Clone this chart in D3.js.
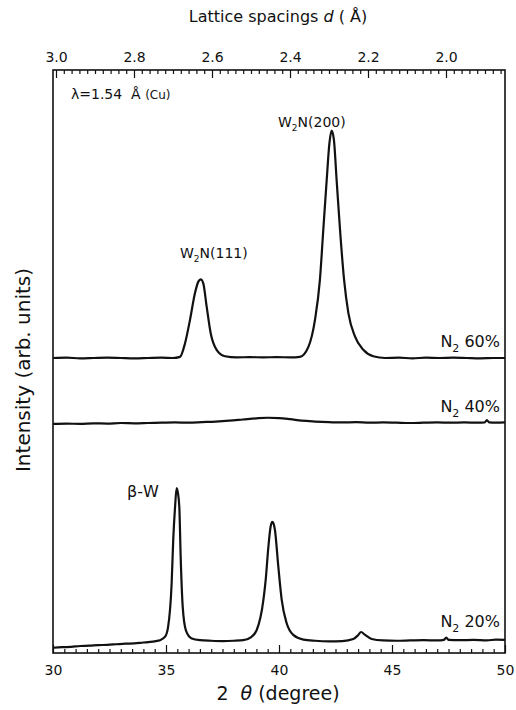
<!DOCTYPE html>
<html>
<head>
<meta charset="utf-8">
<script src="https://cdn.jsdelivr.net/npm/d3@7"></script>
<style>
  body { margin: 0; background: #fff; }
  svg { font-family: "DejaVu Sans", sans-serif; }
</style>
</head>
<body>
<script>
// data: 2theta (deg) and intensity (arb. units, relative to each curve's offset)
var n20Angle = [30.0, 30.4, 30.8, 31.2, 31.6, 32.0, 32.4, 32.8, 33.2, 33.6, 34.0, 34.3, 34.55, 34.73, 34.96,
  35.09, 35.25, 35.32, 35.40, 35.47, 35.53, 35.59, 35.65, 35.74, 35.88, 36.14, 36.5, 37.0, 37.5, 38.0,
  38.42, 38.75, 39.01, 39.31, 39.41, 39.53, 39.63, 39.70, 39.76, 39.82, 39.97, 40.12, 40.34, 40.63, 41.08,
  41.6, 42.2, 42.8, 43.29, 43.51, 43.63, 43.81, 44.10, 44.6, 45.2, 45.8, 46.4, 47.0, 47.3, 47.4,
  47.5, 48.0, 48.6, 49.2, 49.6, 50.0];
var n20Int = [-1.3, -1.2, -1.15, -1.0, -0.95, -0.85, -0.8, -0.7, -0.6, -0.55, -0.4, -0.3, -0.15, 0.0, 0.6,
  2.2, 9.8, 17.2, 22.8, 26.1, 25.2, 22.8, 14.2, 5.7, 1.7, 0.3, 0.0, -0.1, -0.15, -0.1,
  0.0, 0.5, 1.7, 6.9, 10.3, 16.0, 19.5, 20.3, 20.0, 18.9, 12.6, 6.9, 2.9, 0.9, 0.1,
  -0.1, -0.2, -0.15, 0.2, 0.9, 1.4, 0.9, 0.2, -0.05, -0.1, -0.05, 0.0, -0.05, 0.05, 0.45,
  0.05, 0.0, 0.05, -0.05, 0.1, 0.05];

var n40Angle = [30.0, 30.6, 31.2, 31.8, 32.4, 33.0, 33.6, 34.2, 34.8, 35.4, 36.0, 36.6, 37.2, 37.8, 38.4,
  39.0, 39.5, 40.0, 40.5, 41.0, 41.6, 42.2, 42.8, 43.4, 44.0, 44.6, 45.2, 45.8, 46.4, 47.0,
  47.6, 48.2, 48.8, 49.1, 49.2, 49.3, 49.6, 50.0];
var n40Int = [-0.2, -0.15, -0.2, -0.1, -0.15, -0.05, -0.1, -0.05, 0.0, 0.05, 0.0, 0.1, 0.2, 0.35, 0.55,
  0.75, 0.85, 0.8, 0.6, 0.35, 0.2, 0.1, 0.05, 0.1, 0.0, 0.05, 0.0, -0.05, 0.0, 0.05,
  0.0, 0.05, 0.0, 0.05, 0.45, 0.05, 0.0, 0.05];

var n60Angle = [30.0, 30.6, 31.2, 31.8, 32.4, 33.0, 33.6, 34.2, 34.8, 35.3, 35.62, 35.84, 36.06, 36.28, 36.43,
  36.54, 36.65, 36.80, 36.98, 37.24, 37.61, 38.13, 38.7, 39.3, 39.9, 40.5, 40.93, 41.30, 41.59, 41.81,
  41.96, 42.11, 42.23, 42.33, 42.43, 42.55, 42.70, 42.88, 43.07, 43.36, 43.73, 44.17, 44.7, 45.3, 45.9,
  46.5, 47.1, 47.7, 48.3, 48.9, 49.5, 50.0];
var n60Int = [0.0, 0.05, -0.05, 0.0, 0.05, 0.0, -0.05, 0.0, 0.05, 0.0, 0.2, 2.5, 6.5, 11.1, 13.1,
  13.5, 12.8, 8.8, 4.2, 1.4, 0.3, 0.1, 0.15, 0.1, 0.15, 0.1, 0.2, 1.9, 6.5, 13.4,
  22.0, 30.5, 36.8, 39.0, 37.4, 30.5, 22.0, 13.4, 7.7, 3.7, 1.4, 0.3, 0.0, 0.05, -0.05,
  0.05, 0.0, 0.05, 0.0, -0.05, 0.0, 0.0];

var seriesNames = ["20%", "40%", "60%"];
var seriesOffsets = [2.2, 39.5, 50.6];

var bottomTicks = [30, 35, 40, 45, 50];
var topTicks = [3.0, 2.8, 2.6, 2.4, 2.2, 2.0];

// svg container
var width = 516;
var height = 710;
var margin = { top: 70, right: 11, bottom: 57, left: 53 };
var chartWidth = width - margin.left - margin.right;
var chartHeight = height - margin.top - margin.bottom;

var svg = d3.select("body").append("svg")
    .attr("width", width)
    .attr("height", height);

var chartGroup = svg.append("g")
    .attr("transform", `translate(${margin.left}, ${margin.top})`);

// scales
var xScale = d3.scaleLinear().domain([30, 50]).range([0, chartWidth]);
var dScale = d3.scaleLinear().domain([3.0, 2.0]).range([3, 393]);
var yScale = d3.scaleLinear().domain([0, 100]).range([chartHeight, 0]);

// bottom axis, ticks pointing inward
var bottomMinor = d3.range(30.5, 50, 0.5).filter(v => v % 5 !== 0);
chartGroup.append("g")
    .attr("transform", `translate(0, ${chartHeight})`)
    .call(d3.axisBottom(xScale).tickValues(bottomMinor).tickSize(-4).tickFormat(""));
chartGroup.append("g")
    .attr("class", "axis")
    .attr("transform", `translate(0, ${chartHeight})`)
    .call(d3.axisBottom(xScale).tickValues(bottomTicks).tickSize(-8).tickPadding(12));

// top axis (lattice spacing)
var topMinor = d3.range(93, 150).map(k => k / 50)
    .filter(v => Math.round(v * 50) % 10 !== 0)
    .filter(v => dScale(v) > 0 && dScale(v) < chartWidth);
chartGroup.append("g")
    .call(d3.axisTop(dScale).tickValues(topMinor).tickSize(-4).tickFormat(""));
chartGroup.append("g")
    .attr("class", "axis")
    .call(d3.axisTop(dScale).tickValues(topTicks).tickSize(-8).tickPadding(8).tickFormat(d3.format(".1f")));

chartGroup.selectAll(".domain").remove();
chartGroup.selectAll(".tick line").attr("stroke", "#111").attr("stroke-width", 1.2);
chartGroup.selectAll(".axis text")
    .attr("font-size", 14)
    .attr("font-family", "DejaVu Sans, sans-serif")
    .attr("fill", "#111");

// frame
chartGroup.append("rect")
    .attr("width", chartWidth)
    .attr("height", chartHeight)
    .attr("fill", "none")
    .attr("stroke", "#111")
    .attr("stroke-width", 1.6);

// curves
var seriesAngles = [n20Angle, n40Angle, n60Angle];
var seriesValues = [n20Int, n40Int, n60Int];

var line = d3.line()
    .x(d => xScale(d[0]))
    .y(d => yScale(d[1]))
    .curve(d3.curveMonotoneX);

seriesNames.forEach(function(name, i) {
  var pts = seriesAngles[i].map((a, j) => [a, seriesValues[i][j] + seriesOffsets[i]]);
  chartGroup.append("path")
      .datum(pts)
      .attr("d", line)
      .attr("fill", "none")
      .attr("stroke", "#111")
      .attr("stroke-width", 2.2)
      .attr("stroke-linejoin", "round");
});

// series labels (N2 xx%)
var labelY = [627, 412, 347];
seriesNames.forEach(function(name, i) {
  var t = svg.append("text")
      .attr("x", 500)
      .attr("y", labelY[i])
      .attr("text-anchor", "end")
      .attr("font-size", 16)
      .attr("fill", "#111");
  t.append("tspan").text("N");
  t.append("tspan").attr("font-size", 11).attr("dy", 5).text("2");
  t.append("tspan").attr("dy", -5).text("\u00a0" + name);
});

// peak labels
function subLabel(x, y, size) {
  var t = svg.append("text")
      .attr("x", x)
      .attr("y", y)
      .attr("font-size", size)
      .attr("fill", "#111");
  return t;
}
var t200 = subLabel(278, 127, 14);
t200.append("tspan").text("W");
t200.append("tspan").attr("font-size", 9).attr("dy", 4).text("2");
t200.append("tspan").attr("dy", -4).text("N(200)");

var t111 = subLabel(180, 258, 14);
t111.append("tspan").text("W");
t111.append("tspan").attr("font-size", 9).attr("dy", 4).text("2");
t111.append("tspan").attr("dy", -4).text("N(111)");

subLabel(127, 497, 16).text("\u03b2-W");

var lam = subLabel(71, 99, 14);
lam.append("tspan").text("\u03bb=1.54\u00a0\u00a0\u00c5 ");
lam.append("tspan").attr("font-size", 12).text("(Cu)");

// axis titles
var bt = svg.append("text")
    .attr("x", 278)
    .attr("y", 700)
    .attr("text-anchor", "middle")
    .attr("font-size", 19)
    .attr("fill", "#111");
bt.append("tspan").text("2\u00a0\u00a0");
bt.append("tspan").attr("font-style", "italic").text("\u03b8");
bt.append("tspan").text(" (degree)");

var tt = svg.append("text")
    .attr("x", 278)
    .attr("y", 22)
    .attr("text-anchor", "middle")
    .attr("font-size", 16)
    .attr("fill", "#111");
tt.append("tspan").text("Lattice spacings ");
tt.append("tspan").attr("font-style", "italic").text("d");
tt.append("tspan").text(" (\u00a0\u00c5)");

svg.append("text")
    .attr("transform", "translate(30, 370) rotate(-90)")
    .attr("text-anchor", "middle")
    .attr("font-size", 20)
    .attr("fill", "#111")
    .text("Intensity (arb. units)");
</script>
</body>
</html>
